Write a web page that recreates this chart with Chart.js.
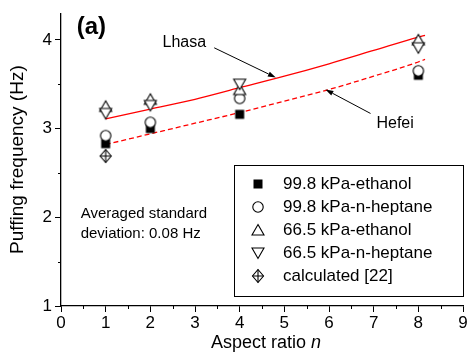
<!DOCTYPE html>
<html>
<head>
<meta charset="utf-8">
<script src="https://cdn.jsdelivr.net/npm/chart.js@4/dist/chart.umd.min.js"></script>
<style>
  html, body { margin: 0; padding: 0; background: #fff; }
  canvas { display: block; }
</style>
</head>
<body>
<canvas id="chart" width="470" height="355"></canvas>
<script>
// Measured points (aspect ratio n vs puffing frequency, Hz)
const aspectN = [1, 2, 4, 8];
const eth998 = [2.83, 3.00, 3.16, 3.60];
const hep998 = [2.92, 3.07, 3.34, 3.65];
const eth665 = [3.25, 3.33, 3.44, 4.00];
const hep665 = [3.17, 3.26, 3.50, 3.91];
const calcN = [1];
const calcF = [2.69];

// Fitted curves
const fitN = [1, 2, 3, 4, 5, 6, 7, 8, 8.15];
const lhasaF = [3.11, 3.22, 3.33, 3.46, 3.59, 3.73, 3.88, 4.03, 4.05];
const hefeiF = [2.82, 2.94, 3.06, 3.18, 3.31, 3.44, 3.59, 3.75, 3.78];

const xTicks = [0, 1, 2, 3, 4, 5, 6, 7, 8, 9];
const yTicks = [1, 2, 3, 4];

const FONT = "'Liberation Sans', Arial, sans-serif";

function pts(xs, ys) {
  return xs.map((x, i) => ({ x: x, y: ys[i] }));
}

// little canvases used as point styles (and in the legend)
function marker(kind) {
  const c = document.createElement('canvas');
  c.width = 16; c.height = 16;
  const g = c.getContext('2d');
  g.lineWidth = 1.1;
  g.strokeStyle = '#000';
  g.fillStyle = '#fff';
  g.beginPath();
  if (kind === 'square') {
    g.fillStyle = '#000';
    g.fillRect(3.5, 3.5, 9, 9);
    return c;
  } else if (kind === 'circle') {
    g.arc(8, 8, 5.2, 0, Math.PI * 2);
  } else if (kind === 'up') {
    g.moveTo(8, 2.5); g.lineTo(14, 13); g.lineTo(2, 13); g.closePath();
  } else if (kind === 'down') {
    g.moveTo(2, 3); g.lineTo(14, 3); g.lineTo(8, 13.5); g.closePath();
  } else if (kind === 'calc') {
    g.moveTo(8, 1.5); g.lineTo(13.5, 8); g.lineTo(8, 14.5); g.lineTo(2.5, 8); g.closePath();
  }
  g.fill();
  g.stroke();
  if (kind === 'calc') {
    g.beginPath();
    g.moveTo(8, 1.5); g.lineTo(8, 14.5);
    g.moveTo(2.5, 8); g.lineTo(13.5, 8);
    g.stroke();
  }
  return c;
}

const mSquare = marker('square');
const mCircle = marker('circle');
const mUp = marker('up');
const mDown = marker('down');
const mCalc = marker('calc');

function pointSet(label, data, img, order) {
  return {
    label: label,
    data: data,
    pointStyle: img,
    pointRadius: 6,
    showLine: false,
    order: order,
    inLegend: true
  };
}

// minor ticks, annotations and the legend box
const extras = {
  id: 'extras',
  afterDraw(chart) {
    const ctx = chart.ctx;
    const xs = chart.scales.x;
    const ys = chart.scales.y;
    const area = chart.chartArea;
    ctx.save();
    ctx.strokeStyle = '#000';
    ctx.lineWidth = 1;

    // minor ticks
    ctx.beginPath();
    for (let v = 0.5; v < 9; v += 1) {
      const px = Math.round(xs.getPixelForValue(v)) + 0.5;
      ctx.moveTo(px, area.bottom); ctx.lineTo(px, area.bottom + 3);
    }
    for (let v = 1.5; v < 4.3; v += 1) {
      const py = Math.round(ys.getPixelForValue(v)) + 0.5;
      ctx.moveTo(area.left, py); ctx.lineTo(area.left - 3, py);
    }
    ctx.stroke();

    // x axis title with italic n
    ctx.fillStyle = '#000';
    ctx.textBaseline = 'middle';
    ctx.font = '18px ' + FONT;
    const t1 = 'Aspect ratio ';
    ctx.font = 'italic 18px ' + FONT;
    const wn = ctx.measureText('n').width;
    ctx.font = '18px ' + FONT;
    const w1 = ctx.measureText(t1).width;
    const cx = (area.left + area.right) / 2 + 4;
    const tx = cx - (w1 + wn) / 2;
    ctx.textAlign = 'left';
    ctx.fillText(t1, tx, 343);
    ctx.font = 'italic 18px ' + FONT;
    ctx.fillText('n', tx + w1, 343);

    // panel label
    ctx.font = 'bold 24px ' + FONT;
    ctx.textAlign = 'center';
    ctx.fillText('(a)', xs.getPixelForValue(0.68), ys.getPixelForValue(4.14));

    // curve labels + arrows
    ctx.font = '16px ' + FONT;
    ctx.fillText('Lhasa', xs.getPixelForValue(2.76), ys.getPixelForValue(3.97));
    ctx.fillText('Hefei', xs.getPixelForValue(7.48), ys.getPixelForValue(3.06));
    arrow(ctx, xs.getPixelForValue(3.43), ys.getPixelForValue(3.91),
      xs.getPixelForValue(4.81), ys.getPixelForValue(3.575));
    arrow(ctx, xs.getPixelForValue(6.93), ys.getPixelForValue(3.17),
      xs.getPixelForValue(5.92), ys.getPixelForValue(3.44));

    // std dev note
    ctx.font = '15px ' + FONT;
    ctx.textAlign = 'left';
    ctx.fillText('Averaged standard', xs.getPixelForValue(0.44), 214);
    ctx.fillText('deviation: 0.08 Hz', xs.getPixelForValue(0.44), 234);

    // legend box
    const bx = 234, by = 165, bw = 229, bh = 131;
    ctx.lineWidth = 1;
    ctx.strokeRect(bx + 0.5, by + 0.5, bw, bh);
    ctx.font = '17px ' + FONT;
    const items = chart.data.datasets.filter(d => d.inLegend);
    items.forEach((d, i) => {
      const rowY = by + 19 + i * 23;
      ctx.drawImage(d.pointStyle, bx + 24 - 8, rowY - 8);
      ctx.fillText(d.label, bx + 49, rowY);
    });
    ctx.restore();
  }
};

function arrow(ctx, x0, y0, x1, y1) {
  const a = Math.atan2(y1 - y0, x1 - x0);
  const len = 8, half = 2.6;
  ctx.beginPath();
  ctx.moveTo(x0, y0);
  ctx.lineTo(x1 - Math.cos(a) * len, y1 - Math.sin(a) * len);
  ctx.stroke();
  ctx.beginPath();
  ctx.moveTo(x1, y1);
  ctx.lineTo(x1 - Math.cos(a) * len - Math.sin(a) * half, y1 - Math.sin(a) * len + Math.cos(a) * half);
  ctx.lineTo(x1 - Math.cos(a) * len + Math.sin(a) * half, y1 - Math.sin(a) * len - Math.cos(a) * half);
  ctx.closePath();
  ctx.fill();
}

new Chart(document.getElementById('chart'), {
  type: 'scatter',
  data: {
    datasets: [
      {
        label: 'Lhasa',
        data: pts(fitN, lhasaF),
        showLine: true,
        borderColor: '#ff0000',
        borderWidth: 1.3,
        pointRadius: 0,
        cubicInterpolationMode: 'monotone',
        order: 10
      },
      {
        label: 'Hefei',
        data: pts(fitN, hefeiF),
        showLine: true,
        borderColor: '#ff0000',
        borderWidth: 1.3,
        borderDash: [5, 3],
        pointRadius: 0,
        cubicInterpolationMode: 'monotone',
        order: 9
      },
      pointSet('99.8 kPa-ethanol', pts(aspectN, eth998), mSquare, 6),
      pointSet('99.8 kPa-n-heptane', pts(aspectN, hep998), mCircle, 5),
      pointSet('66.5 kPa-ethanol', pts(aspectN, eth665), mUp, 4),
      pointSet('66.5 kPa-n-heptane', pts(aspectN, hep665), mDown, 3),
      pointSet('calculated [22]', pts(calcN, calcF), mCalc, 2)
    ]
  },
  options: {
    responsive: false,
    animation: false,
    devicePixelRatio: 1,
    layout: { padding: { top: 10, right: 5, left: 0, bottom: 0 } },
    plugins: {
      legend: { display: false },
      tooltip: { enabled: false }
    },
    scales: {
      x: {
        type: 'linear',
        min: 0,
        max: 9,
        afterBuildTicks: s => { s.ticks = xTicks.map(v => ({ value: v })); },
        ticks: { color: '#000', font: { family: FONT, size: 17 }, padding: 1, maxRotation: 0 },
        grid: { drawOnChartArea: false, color: '#000', tickLength: 6, tickWidth: 1 },
        border: { color: '#000', width: 1.3 },
        afterFit: s => { s.height = 49; }
      },
      y: {
        type: 'linear',
        min: 1,
        max: 4.3,
        afterBuildTicks: s => { s.ticks = yTicks.map(v => ({ value: v })); },
        ticks: { color: '#000', font: { family: FONT, size: 17 }, padding: 3 },
        grid: { drawOnChartArea: false, color: '#000', tickLength: 6, tickWidth: 1 },
        border: { color: '#000', width: 1.3 },
        title: {
          display: true,
          text: 'Puffing frequency (Hz)',
          color: '#000',
          font: { family: FONT, size: 19 },
          padding: { top: 6, bottom: 0 }
        },
        afterFit: s => { s.width = 61; }
      }
    }
  },
  plugins: [extras]
});
</script>
</body>
</html>
